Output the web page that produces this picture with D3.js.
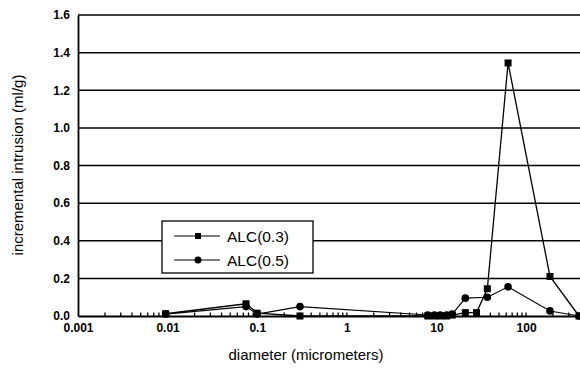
<!DOCTYPE html>
<html>
<head>
<meta charset="utf-8">
<script src="https://cdn.jsdelivr.net/npm/d3@7/dist/d3.min.js"></script>
<style>
  body { margin: 0; background: #fff; }
  svg { display: block; font-family: "Liberation Sans", Arial, sans-serif; }
</style>
</head>
<body>
<svg id="chart" width="580" height="369"></svg>
<script>
// diameter (micrometers) and incremental intrusion (ml/g)
const alc03X = [0.0095, 0.075, 0.1, 0.3, 8, 9.5, 11, 13, 15, 21, 28, 37, 63, 185, 390];
const alc03Y = [0.012, 0.065, 0.015, 0.0, 0.0, 0.0, 0.0, 0.0, 0.005, 0.018, 0.018, 0.145, 1.345, 0.21, 0.0];
const alc05X = [0.0095, 0.075, 0.1, 0.3, 8, 9.5, 11, 13, 15, 21, 37, 63, 185, 390];
const alc05Y = [0.01, 0.05, 0.01, 0.05, 0.005, 0.005, 0.005, 0.005, 0.01, 0.095, 0.1, 0.155, 0.027, 0.0];
const yTicks = [0, 0.2, 0.4, 0.6, 0.8, 1.0, 1.2, 1.4, 1.6];
const xTicks = [0.001, 0.01, 0.1, 1, 10, 100];
const seriesNames = ["ALC(0.3)", "ALC(0.5)"];

const svg = d3.select("#chart");
const margin = { left: 78, right: 0, top: 15, bottom: 53 };
const W = 580, H = 369;

const x = d3.scaleLog().domain([0.001, 400]).range([margin.left, W - margin.right]);
const y = d3.scaleLinear().domain([0, 1.6]).range([H - margin.bottom, margin.top]);

// gridlines
svg.append("g").selectAll("line")
  .data(yTicks.slice(1))
  .join("line")
  .attr("x1", x(0.001)).attr("x2", W)
  .attr("y1", d => y(d)).attr("y2", d => y(d))
  .attr("stroke", "#000").attr("stroke-width", 1.5);

// y axis
const yAxis = svg.append("g")
  .attr("transform", `translate(${x(0.001)},0)`)
  .call(d3.axisLeft(y).tickValues(yTicks).tickFormat(d3.format(".1f")).tickSize(0).tickPadding(8));
yAxis.select(".domain").attr("stroke", "#000").attr("stroke-width", 1.8);
yAxis.selectAll("text").attr("font-size", 12).attr("font-weight", "bold").attr("fill", "#000");

// x axis with minor ticks pointing inward
const minor = [];
for (let e = -3; e < 3; e++) {
  for (let m = 2; m <= 9; m++) {
    const v = m * Math.pow(10, e);
    if (v <= 400) minor.push(v);
  }
}
const xAxis = svg.append("g")
  .attr("transform", `translate(0,${y(0)})`)
  .call(d3.axisBottom(x).tickValues(xTicks).tickFormat(d => d >= 1 ? d3.format("d")(d) : String(d)).tickSize(0).tickPadding(7));
xAxis.select(".domain").attr("stroke", "#000").attr("stroke-width", 1.8);
xAxis.selectAll("text").attr("font-size", 12).attr("font-weight", "bold").attr("fill", "#000");
svg.append("g").selectAll("line")
  .data(minor.concat(xTicks.slice(1)))
  .join("line")
  .attr("x1", d => x(d)).attr("x2", d => x(d))
  .attr("y1", y(0)).attr("y2", y(0) - 3.5)
  .attr("stroke", "#000").attr("stroke-width", 1.3);

// series
const line = d3.line().x(d => x(d[0])).y(d => y(d[1]));
const s03 = alc03X.map((v, i) => [v, alc03Y[i]]);
const s05 = alc05X.map((v, i) => [v, alc05Y[i]]);

svg.append("path").datum(s05).attr("d", line)
  .attr("fill", "none").attr("stroke", "#000").attr("stroke-width", 1.1);
svg.append("path").datum(s03).attr("d", line)
  .attr("fill", "none").attr("stroke", "#000").attr("stroke-width", 1.3);

svg.append("g").selectAll("rect")
  .data(s03).join("rect")
  .attr("x", d => x(d[0]) - 3.5).attr("y", d => y(d[1]) - 3.5)
  .attr("width", 7).attr("height", 7).attr("fill", "#000");
svg.append("g").selectAll("circle")
  .data(s05).join("circle")
  .attr("cx", d => x(d[0])).attr("cy", d => y(d[1])).attr("r", 3.8).attr("fill", "#000");

// legend
const lg = svg.append("g");
lg.append("rect").attr("x", 162).attr("y", 221).attr("width", 151).attr("height", 52)
  .attr("fill", "#fff").attr("stroke", "#000").attr("stroke-width", 1.3);
seriesNames.forEach((name, i) => {
  const cy = 236 + i * 24;
  lg.append("line").attr("x1", 174).attr("x2", 220).attr("y1", cy).attr("y2", cy)
    .attr("stroke", "#000").attr("stroke-width", 1.2);
  if (i === 0) {
    lg.append("rect").attr("x", 195).attr("y", cy - 3).attr("width", 6).attr("height", 6).attr("fill", "#000");
  } else {
    lg.append("circle").attr("cx", 198).attr("cy", cy).attr("r", 3.5).attr("fill", "#000");
  }
  lg.append("text").attr("x", 227).attr("y", cy + 5.5).attr("font-size", 15.5).attr("fill", "#000").text(name);
});

// axis titles
svg.append("text").attr("x", 306).attr("y", 360).attr("text-anchor", "middle")
  .attr("font-size", 15).attr("fill", "#000").text("diameter (micrometers)");
svg.append("text").attr("transform", "translate(23,165) rotate(-90)").attr("text-anchor", "middle")
  .attr("font-size", 15).attr("fill", "#000").text("incremental intrusion (ml/g)");
</script>
</body>
</html>
